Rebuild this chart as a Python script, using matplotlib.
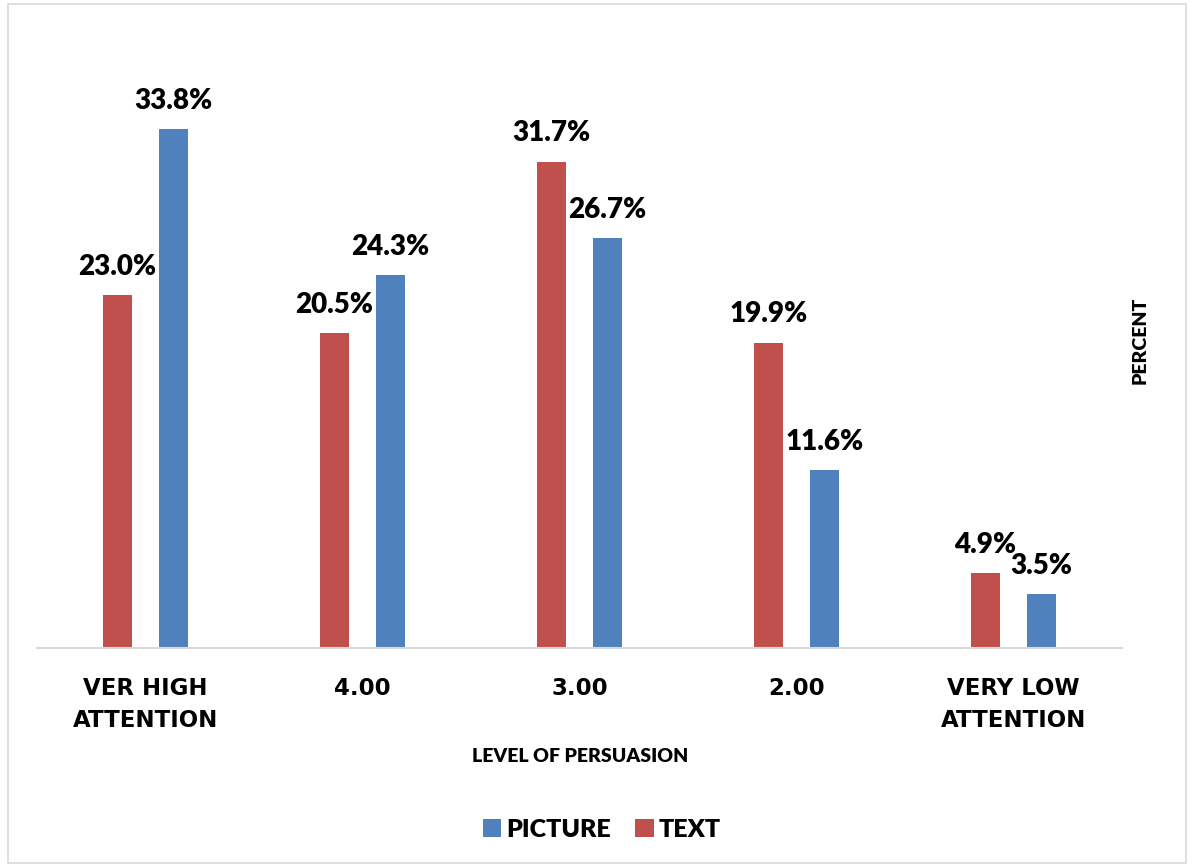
import matplotlib
matplotlib.use("Agg")
import matplotlib.pyplot as plt
import numpy as np
from matplotlib.patches import Rectangle

plt.rcParams['font.family'] = ['Lato', 'DejaVu Sans']
plt.rcParams['font.weight'] = 'heavy'

categories = ["VER HIGH\nATTENTION", "4.00", "3.00", "2.00", "VERY LOW\nATTENTION"]
text_vals = [23.0, 20.5, 31.7, 19.9, 4.9]
picture_vals = [33.8, 24.3, 26.7, 11.6, 3.5]

RED = "#C0504D"
BLUE = "#4F81BD"
W = "heavy"

fig = plt.figure(figsize=(11.96, 8.68), dpi=100)
# light frame around the whole chart area
fig.patches.append(Rectangle((0.007, 0.006), 0.985, 0.989, transform=fig.transFigure,
                             fill=False, edgecolor="#D9D9D9", linewidth=1.2))

ax = fig.add_axes([0.031, 0.2535, 0.907, 0.700])
x = np.arange(len(categories))
w = 0.134
off = 0.129

bars_text = ax.bar(x - off, text_vals, w, color=RED, label="TEXT")
bars_pic = ax.bar(x + off, picture_vals, w, color=BLUE, label="PICTURE")

for bars, vals in ((bars_text, text_vals), (bars_pic, picture_vals)):
    for b, v in zip(bars, vals):
        ax.annotate(f"{v:.1f}%", (b.get_x() + b.get_width() / 2, v),
                    xytext=(0, 11), textcoords="offset points",
                    ha="center", va="bottom", fontsize=20, fontweight=W)

ax.set_xlim(-0.5, len(categories) - 0.5)
ax.set_ylim(0, 39.6)
ax.set_yticks([])
for s in ("top", "left", "right"):
    ax.spines[s].set_visible(False)
ax.spines["bottom"].set_color("#D9D9D9")
ax.spines["bottom"].set_linewidth(1.5)

ax.set_xticks(x)
ax.set_xticklabels(categories, fontsize=16.5, fontweight=W, linespacing=1.5,
                   family=["DejaVu Sans"])
ax.tick_params(axis="x", length=0, pad=21)

fig.text(0.485, 0.128, "LEVEL OF PERSUASION", ha="center", va="center",
         fontsize=14, fontweight=W)
fig.text(0.953, 0.608, "PERCENT", ha="center", va="center", rotation=90,
         fontsize=14, fontweight=W)

handles = [bars_pic, bars_text]
fig.legend(handles, ["PICTURE", "TEXT"], loc="center", bbox_to_anchor=(0.503, 0.044),
           ncol=2, frameon=False, prop={"weight": W, "size": 18},
           handlelength=0.75, handleheight=0.75, handletextpad=0.2, columnspacing=0.95)

fig.savefig("out.png", dpi=100, facecolor="white")
